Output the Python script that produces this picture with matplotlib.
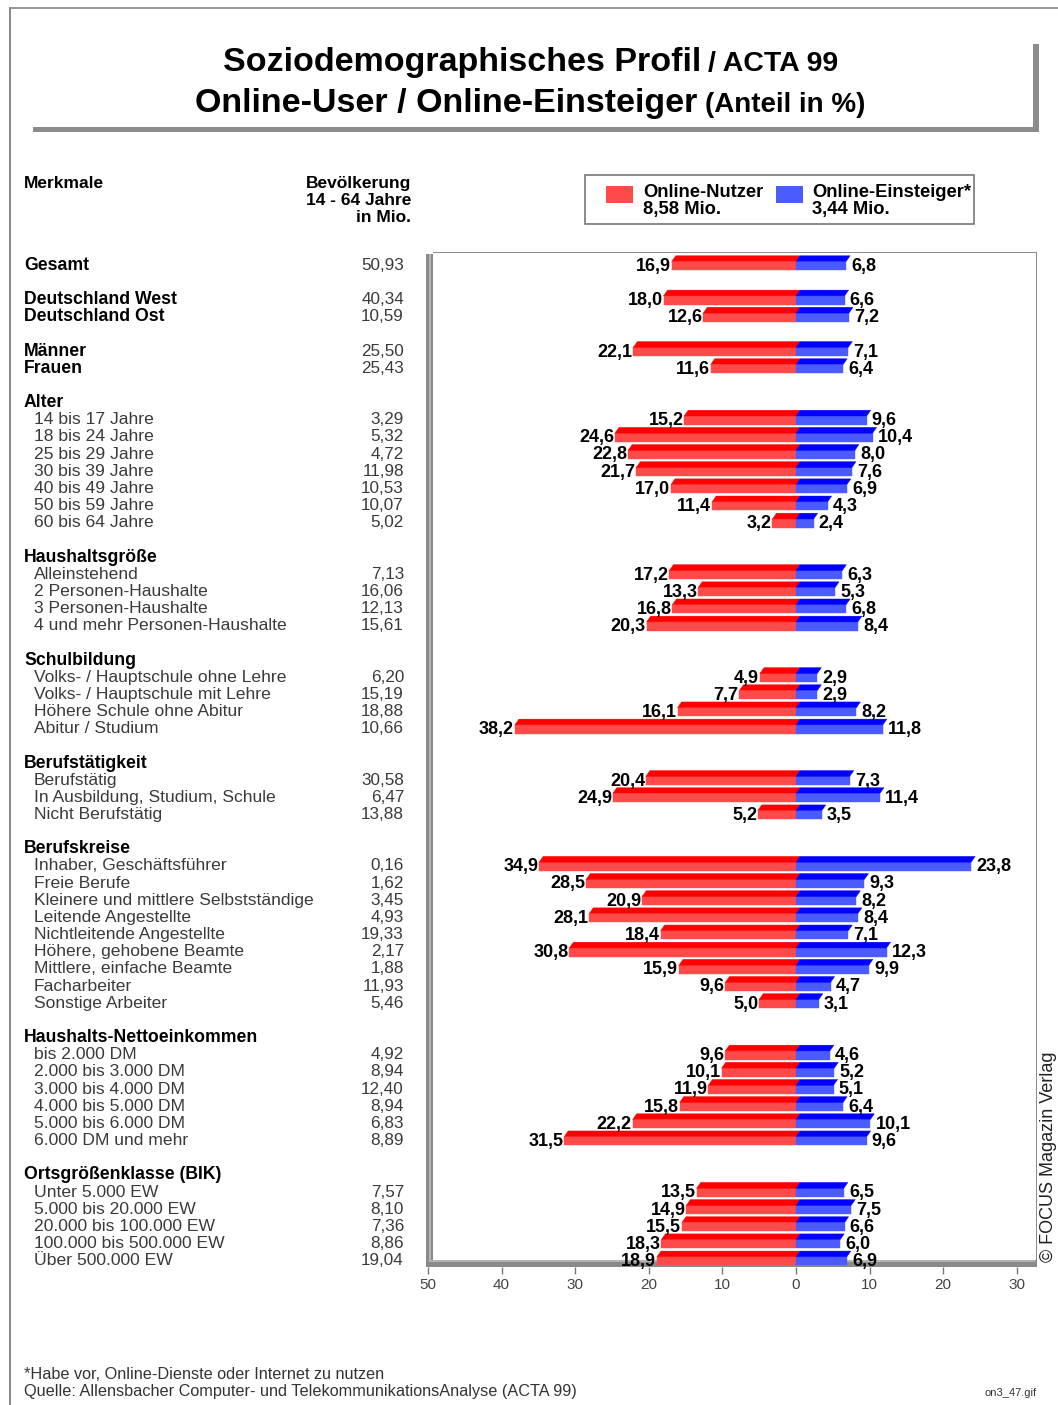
import matplotlib
matplotlib.use('Agg')
import matplotlib.pyplot as plt
import matplotlib.transforms as mtransforms
from matplotlib.patches import Rectangle, Polygon

plt.rcParams['font.family'] = ['Liberation Sans', 'DejaVu Sans']

# ---- data -------------------------------------------------------------
group_titles = [None, None, None, 'Alter', 'Haushaltsgröße', 'Schulbildung',
                'Berufstätigkeit', 'Berufskreise', 'Haushalts-Nettoeinkommen',
                'Ortsgrößenklasse (BIK)']
group_sizes = [1, 2, 2, 7, 4, 4, 3, 9, 6, 5]

merkmale = [
    'Gesamt',
    'Deutschland West', 'Deutschland Ost',
    'Männer', 'Frauen',
    '14 bis 17 Jahre', '18 bis 24 Jahre', '25 bis 29 Jahre', '30 bis 39 Jahre',
    '40 bis 49 Jahre', '50 bis 59 Jahre', '60 bis 64 Jahre',
    'Alleinstehend', '2 Personen-Haushalte', '3 Personen-Haushalte',
    '4 und mehr Personen-Haushalte',
    'Volks- / Hauptschule ohne Lehre', 'Volks- / Hauptschule mit Lehre',
    'Höhere Schule ohne Abitur', 'Abitur / Studium',
    'Berufstätig', 'In Ausbildung, Studium, Schule', 'Nicht Berufstätig',
    'Inhaber, Geschäftsführer', 'Freie Berufe',
    'Kleinere und mittlere Selbstständige', 'Leitende Angestellte',
    'Nichtleitende Angestellte', 'Höhere, gehobene Beamte',
    'Mittlere, einfache Beamte', 'Facharbeiter', 'Sonstige Arbeiter',
    'bis 2.000 DM', '2.000 bis 3.000 DM', '3.000 bis 4.000 DM',
    '4.000 bis 5.000 DM', '5.000 bis 6.000 DM', '6.000 DM und mehr',
    'Unter 5.000 EW', '5.000 bis 20.000 EW', '20.000 bis 100.000 EW',
    '100.000 bis 500.000 EW', 'Über 500.000 EW',
]

bevoelkerung = [
    50.93,
    40.34, 10.59,
    25.50, 25.43,
    3.29, 5.32, 4.72, 11.98, 10.53, 10.07, 5.02,
    7.13, 16.06, 12.13, 15.61,
    6.20, 15.19, 18.88, 10.66,
    30.58, 6.47, 13.88,
    0.16, 1.62, 3.45, 4.93, 19.33, 2.17, 1.88, 11.93, 5.46,
    4.92, 8.94, 12.40, 8.94, 6.83, 8.89,
    7.57, 8.10, 7.36, 8.86, 19.04,
]

online_nutzer = [
    16.9,
    18.0, 12.6,
    22.1, 11.6,
    15.2, 24.6, 22.8, 21.7, 17.0, 11.4, 3.2,
    17.2, 13.3, 16.8, 20.3,
    4.9, 7.7, 16.1, 38.2,
    20.4, 24.9, 5.2,
    34.9, 28.5, 20.9, 28.1, 18.4, 30.8, 15.9, 9.6, 5.0,
    9.6, 10.1, 11.9, 15.8, 22.2, 31.5,
    13.5, 14.9, 15.5, 18.3, 18.9,
]

online_einsteiger = [
    6.8,
    6.6, 7.2,
    7.1, 6.4,
    9.6, 10.4, 8.0, 7.6, 6.9, 4.3, 2.4,
    6.3, 5.3, 6.8, 8.4,
    2.9, 2.9, 8.2, 11.8,
    7.3, 11.4, 3.5,
    23.8, 9.3, 8.2, 8.4, 7.1, 12.3, 9.9, 4.7, 3.1,
    4.6, 5.2, 5.1, 6.4, 10.1, 9.6,
    6.5, 7.5, 6.6, 6.0, 6.9,
]

x_ticks = [-50, -40, -30, -20, -10, 0, 10, 20, 30]


def de(v, nd):
    return f'{v:.{nd}f}'.replace('.', ',')


# ---- figure helpers (pixel positions) ----------------------------------
W, H = 1058, 1405
fig = plt.figure(figsize=(W / 100, H / 100), dpi=100)
fig.patch.set_facecolor('white')


def fx(x):
    return x / W


def fy(y):
    return 1 - y / H


def rect(x0, y0, x1, y1, color, z=1):
    fig.patches.append(Rectangle((fx(x0), fy(y1)), fx(x1) - fx(x0), fy(y0) - fy(y1),
                                 transform=fig.transFigure, facecolor=color,
                                 edgecolor='none', zorder=z))


def ftext(x, y, s, **kw):
    fig.text(fx(x), fy(y), s, **kw)


# outer frame
rect(10, 7, W, 8.5, '#9a9a9a')
rect(9, 7, 10.5, H, '#8a8a8a')

# title with shadow bars
rect(33, 127, 1039, 132, '#8c8c8c')
rect(1033, 44, 1039, 132, '#8c8c8c')
ftext(701, 71, 'Soziodemographisches Profil', fontsize=24.5, fontweight='bold',
      ha='right', va='baseline')
ftext(708, 71, '/ ACTA 99', fontsize=20.5, fontweight='bold', ha='left', va='baseline')
ftext(697, 112, 'Online-User / Online-Einsteiger', fontsize=24.5, fontweight='bold',
      ha='right', va='baseline')
ftext(705, 112, '(Anteil in %)', fontsize=20, fontweight='bold', ha='left',
      va='baseline')

# column headers
ftext(24, 188, 'Merkmale', fontsize=12.5, fontweight='bold', va='baseline')
for i, line in enumerate(['Bevölkerung', '14 - 64 Jahre', 'in Mio.']):
    ftext(411, 188 + 17 * i, line, fontsize=12.5, fontweight='bold', ha='right',
          va='baseline')

# legend
fig.patches.append(Rectangle((fx(585), fy(224)), fx(974) - fx(585), fy(175) - fy(224),
                             transform=fig.transFigure, facecolor='white',
                             edgecolor='#777777', lw=1.2))
rect(606, 186, 633, 203, '#ff4a4a', z=2)
rect(776, 186, 803, 203, '#4a5cff', z=2)
ftext(643, 197, 'Online-Nutzer', fontsize=13.2, fontweight='bold', va='baseline')
ftext(643, 214, '8,58 Mio.', fontsize=13.2, fontweight='bold', va='baseline')
ftext(812, 197, 'Online-Einsteiger*', fontsize=13.2, fontweight='bold', va='baseline')
ftext(812, 214, '3,44 Mio.', fontsize=13.2, fontweight='bold', va='baseline')

# ---- chart axes ---------------------------------------------------------
SLOT_PX = 17.16
Y0_PX = 263
ax = fig.add_axes([fx(428), fy(1267), fx(1036) - fx(428), (1267 - 252) / H])
ax.patch.set_visible(False)
ax.set_xlim(-50, (1036 - 796) / 7.36)
ax.set_ylim((1267 - Y0_PX) / SLOT_PX, (252 - Y0_PX) / SLOT_PX)
for sp in ax.spines.values():
    sp.set_visible(False)
ax.set_yticks([])
ax.set_xticks(x_ticks)
ax.set_xticklabels([str(abs(t)) for t in x_ticks], fontsize=11, color='#444444')
ax.tick_params(axis='x', length=5, width=1, color='#777777', pad=3)

# panel frame behind the bars: top/right lines, left wall, floor
rect(433, 251.5, 1037, 253, '#8c8c8c', z=-2)
rect(1035.5, 252, 1037, 1262, '#8c8c8c', z=-2)
rect(426, 254, 433, 1267, '#8a8a8a', z=-2)
rect(429, 254, 431, 1262, '#b5b5b5', z=-1)
rect(426, 1260, 1037, 1267, '#8a8a8a', z=-2)
rect(431, 1260, 1035, 1262, '#b5b5b5', z=-1)

# row slots
slots = []
rows_kind = []
header_slots = []
slot = 0
for title, n in zip(group_titles, group_sizes):
    if title is not None:
        header_slots.append((slot, title))
        slot += 1
    for _ in range(n):
        slots.append(slot)
        rows_kind.append('item' if title is not None else 'main')
        slot += 1
    slot += 1

# bars with a small 3D top face
h = 0.84
fh = h * 0.6
d = 0.55
red_top, red_front = '#ff0000', '#ff4a4a'
blue_top, blue_front = '#0000ff', '#4a5cff'
for s, vn, ve in zip(slots, online_nutzer, online_einsteiger):
    yc = s + h / 2 - fh / 2
    ymid = s + h / 2 - fh
    ytop = s - h / 2
    ax.barh(yc, -vn, height=fh, color=red_front, edgecolor=red_front, lw=0.3, zorder=3)
    ax.barh(yc, ve, height=fh, color=blue_front, edgecolor=blue_front, lw=0.3, zorder=3)
    ax.add_patch(Polygon([(-vn, ymid), (0, ymid), (d, ytop), (-vn + d, ytop)],
                         closed=True, facecolor=red_top, edgecolor=red_top, lw=0.3,
                         zorder=3))
    ax.add_patch(Polygon([(0, ymid), (ve, ymid), (ve + d, ytop), (d, ytop)],
                         closed=True, facecolor=blue_top, edgecolor=blue_top, lw=0.3,
                         zorder=3))
    ax.text(-vn - 0.1, s + h / 2 + 0.03, de(vn, 1), ha='right', va='baseline',
            fontsize=13, fontweight='bold', zorder=4, clip_on=False)
    ax.text(ve + d + 0.15, s + h / 2 + 0.03, de(ve, 1), ha='left', va='baseline',
            fontsize=13, fontweight='bold', zorder=4, clip_on=False)

# left table
trans = mtransforms.blended_transform_factory(fig.transFigure, ax.transData)
for s, label, pop, kind in zip(slots, merkmale, bevoelkerung, rows_kind):
    if kind == 'main':
        ax.text(fx(24), s + 0.4, label, transform=trans, fontsize=12.7,
                fontweight='bold', va='baseline', clip_on=False)
    else:
        ax.text(fx(34), s + 0.4, label, transform=trans, fontsize=12.6,
                color='#3a3a3a', va='baseline', clip_on=False)
    ax.text(fx(404), s + 0.4, de(pop, 2), transform=trans, fontsize=12.3,
            color='#3a3a3a', ha='right', va='baseline', clip_on=False)
for s, title in header_slots:
    ax.text(fx(24), s + 0.4, title, transform=trans, fontsize=12.7,
            fontweight='bold', va='baseline', clip_on=False)

# footer
ftext(24, 1379, '*Habe vor, Online-Dienste oder Internet zu nutzen', fontsize=11.7,
      color='#333333', va='baseline')
ftext(24, 1396, 'Quelle: Allensbacher Computer- und TelekommunikationsAnalyse (ACTA 99)',
      fontsize=11.7, color='#333333', va='baseline')
ftext(1037, 1396, 'on3_47.gif', fontsize=8, color='#333333', ha='right', va='baseline')
ftext(1057, 1262, '© FOCUS Magazin Verlag', fontsize=13, color='#222222',
      rotation=90, ha='right', va='bottom')

fig.savefig('out.png', dpi=100)
